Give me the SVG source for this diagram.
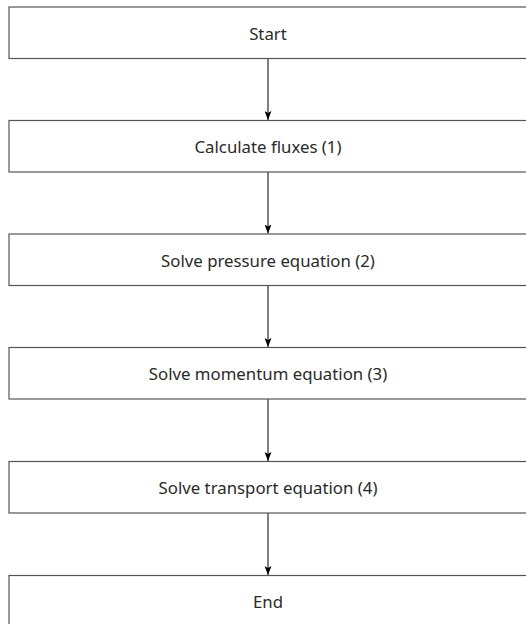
<svg xmlns="http://www.w3.org/2000/svg" width="526" height="624" viewBox="0 0 526 624">
<defs>
<marker id="ah" viewBox="0 0 9 7" refX="9" refY="3.5" markerWidth="9" markerHeight="7" orient="auto" markerUnits="userSpaceOnUse">
<path d="M0,0 L9,3.5 L0,7 L2,3.5 Z" fill="#000"/>
</marker>
<style>
.box{fill:#fff;stroke:#555;stroke-width:1.2}
.lbl{font-family:"Noto Sans","DejaVu Sans",sans-serif;font-size:16.8px;fill:#2a2a2a;text-anchor:middle;dominant-baseline:central}
.con{stroke:#000;stroke-width:1;fill:none;marker-end:url(#ah)}
</style>
</defs>
<rect width="526" height="624" fill="#fff"/>
<g id="connectors">
<line class="con" x1="268" y1="58.5" x2="268" y2="120"/>
<line class="con" x1="268" y1="172" x2="268" y2="233.5"/>
<line class="con" x1="268" y1="285.5" x2="268" y2="347"/>
<line class="con" x1="268" y1="399" x2="268" y2="461"/>
<line class="con" x1="268" y1="513" x2="268" y2="575"/>
</g>
<g id="start"><rect class="box" x="9" y="7" width="520" height="51.5"/><text class="lbl" x="268" y="33">Start</text></g>
<g id="fluxes"><rect class="box" x="9" y="120.5" width="520" height="51.5"/><text class="lbl" x="268" y="146">Calculate fluxes (1)</text></g>
<g id="pressure"><rect class="box" x="9" y="234" width="520" height="51.5"/><text class="lbl" x="268" y="260">Solve pressure equation (2)</text></g>
<g id="momentum"><rect class="box" x="9" y="347.5" width="520" height="51.5"/><text class="lbl" x="268" y="373">Solve momentum equation (3)</text></g>
<g id="transport"><rect class="box" x="9" y="461.5" width="520" height="51.5"/><text class="lbl" x="268" y="487">Solve transport equation (4)</text></g>
<g id="end"><rect class="box" x="9" y="575.5" width="520" height="51.5"/><text class="lbl" x="268" y="601">End</text></g>
</svg>
